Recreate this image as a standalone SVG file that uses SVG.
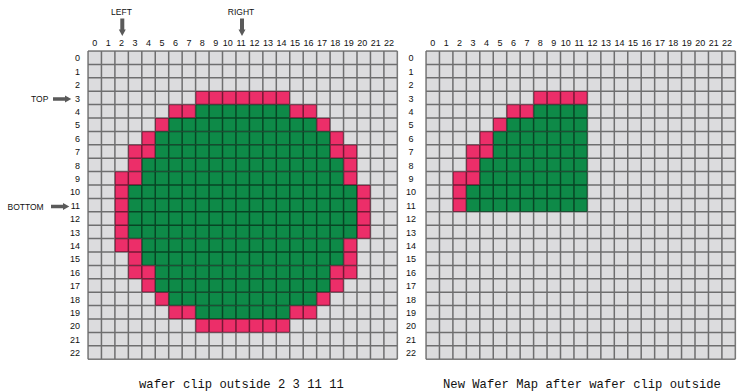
<svg xmlns="http://www.w3.org/2000/svg" width="744" height="392" viewBox="0 0 744 392">
<style>
.bg{fill:#dcdcde}
.p{fill:#ec2e69}
.g{fill:#0e8a48}
.ln{fill:none;stroke:#000;stroke-opacity:0.5;stroke-width:1.5;vector-effect:non-scaling-stroke}
.n{font-family:"Liberation Sans",Arial,sans-serif;font-size:9px;fill:#111;text-anchor:middle}
.rl{font-family:"Liberation Sans",Arial,sans-serif;font-size:9px;fill:#111;text-anchor:end}
.rc{font-family:"Liberation Sans",Arial,sans-serif;font-size:9px;fill:#111;text-anchor:middle}
.lb{font-family:"Liberation Sans",Arial,sans-serif;font-size:8.5px;fill:#111}
.cap{font-family:"Liberation Mono","Courier New",monospace;font-size:12.2px;fill:#111}
.ar{fill:#5a5a5a}
</style>
<defs>
<path id="grid" class="ln" d="M0 0V23M1 0V23M2 0V23M3 0V23M4 0V23M5 0V23M6 0V23M7 0V23M8 0V23M9 0V23M10 0V23M11 0V23M12 0V23M13 0V23M14 0V23M15 0V23M16 0V23M17 0V23M18 0V23M19 0V23M20 0V23M21 0V23M22 0V23M23 0V23M0 0H23M0 1H23M0 2H23M0 3H23M0 4H23M0 5H23M0 6H23M0 7H23M0 8H23M0 9H23M0 10H23M0 11H23M0 12H23M0 13H23M0 14H23M0 15H23M0 16H23M0 17H23M0 18H23M0 19H23M0 20H23M0 21H23M0 22H23M0 23H23"/>
</defs>

<g id="wafer-original" transform="translate(88,51) scale(13.45,13.4)">
<rect class="bg" x="0" y="0" width="23" height="23"/>
<rect class="p" x="8" y="3" width="7" height="1"/>
<rect class="p" x="6" y="4" width="2" height="1"/><rect class="g" x="8" y="4" width="7" height="1"/><rect class="p" x="15" y="4" width="2" height="1"/>
<rect class="p" x="5" y="5" width="1" height="1"/><rect class="g" x="6" y="5" width="11" height="1"/><rect class="p" x="17" y="5" width="1" height="1"/>
<rect class="p" x="4" y="6" width="1" height="1"/><rect class="g" x="5" y="6" width="13" height="1"/><rect class="p" x="18" y="6" width="1" height="1"/>
<rect class="p" x="3" y="7" width="2" height="1"/><rect class="g" x="5" y="7" width="13" height="1"/><rect class="p" x="18" y="7" width="2" height="1"/>
<rect class="p" x="3" y="8" width="1" height="1"/><rect class="g" x="4" y="8" width="15" height="1"/><rect class="p" x="19" y="8" width="1" height="1"/>
<rect class="p" x="2" y="9" width="2" height="1"/><rect class="g" x="4" y="9" width="15" height="1"/><rect class="p" x="19" y="9" width="1" height="1"/>
<rect class="p" x="2" y="10" width="1" height="4"/><rect class="g" x="3" y="10" width="17" height="4"/><rect class="p" x="20" y="10" width="1" height="4"/>
<rect class="p" x="2" y="14" width="2" height="1"/><rect class="g" x="4" y="14" width="15" height="1"/><rect class="p" x="19" y="14" width="1" height="1"/>
<rect class="p" x="3" y="15" width="1" height="1"/><rect class="g" x="4" y="15" width="15" height="1"/><rect class="p" x="19" y="15" width="1" height="1"/>
<rect class="p" x="3" y="16" width="2" height="1"/><rect class="g" x="5" y="16" width="13" height="1"/><rect class="p" x="18" y="16" width="2" height="1"/>
<rect class="p" x="4" y="17" width="1" height="1"/><rect class="g" x="5" y="17" width="13" height="1"/><rect class="p" x="18" y="17" width="1" height="1"/>
<rect class="p" x="5" y="18" width="1" height="1"/><rect class="g" x="6" y="18" width="11" height="1"/><rect class="p" x="17" y="18" width="1" height="1"/>
<rect class="p" x="6" y="19" width="2" height="1"/><rect class="g" x="8" y="19" width="7" height="1"/><rect class="p" x="15" y="19" width="2" height="1"/>
<rect class="p" x="8" y="20" width="7" height="1"/>
<use href="#grid"/>
</g>

<g id="wafer-clipped" transform="translate(426,51) scale(13.45,13.4)">
<rect class="bg" x="0" y="0" width="23" height="23"/>
<rect class="p" x="8" y="3" width="4" height="1"/>
<rect class="p" x="6" y="4" width="2" height="1"/><rect class="g" x="8" y="4" width="4" height="1"/>
<rect class="p" x="5" y="5" width="1" height="1"/><rect class="g" x="6" y="5" width="6" height="1"/>
<rect class="p" x="4" y="6" width="1" height="1"/><rect class="g" x="5" y="6" width="7" height="1"/>
<rect class="p" x="3" y="7" width="2" height="1"/><rect class="g" x="5" y="7" width="7" height="1"/>
<rect class="p" x="3" y="8" width="1" height="1"/><rect class="g" x="4" y="8" width="8" height="1"/>
<rect class="p" x="2" y="9" width="2" height="1"/><rect class="g" x="4" y="9" width="8" height="1"/>
<rect class="p" x="2" y="10" width="1" height="2"/><rect class="g" x="3" y="10" width="9" height="2"/>
<use href="#grid"/>
</g>

<g id="left-col-labels">
<text class="n" x="94.7" y="46">0</text><text class="n" x="108.2" y="46">1</text><text class="n" x="121.6" y="46">2</text><text class="n" x="135.1" y="46">3</text><text class="n" x="148.5" y="46">4</text><text class="n" x="162" y="46">5</text><text class="n" x="175.4" y="46">6</text><text class="n" x="188.9" y="46">7</text><text class="n" x="202.3" y="46">8</text><text class="n" x="215.8" y="46">9</text><text class="n" x="227.7" y="46">10</text><text class="n" x="241.2" y="46">11</text><text class="n" x="254.6" y="46">12</text><text class="n" x="268.1" y="46">13</text><text class="n" x="281.5" y="46">14</text><text class="n" x="295" y="46">15</text><text class="n" x="308.4" y="46">16</text><text class="n" x="321.9" y="46">17</text><text class="n" x="335.3" y="46">18</text><text class="n" x="348.8" y="46">19</text><text class="n" x="362.2" y="46">20</text><text class="n" x="375.7" y="46">21</text><text class="n" x="389.1" y="46">22</text>
</g>
<g id="right-col-labels">
<text class="n" x="432.7" y="46">0</text><text class="n" x="446.2" y="46">1</text><text class="n" x="459.6" y="46">2</text><text class="n" x="473.1" y="46">3</text><text class="n" x="486.5" y="46">4</text><text class="n" x="500" y="46">5</text><text class="n" x="513.4" y="46">6</text><text class="n" x="526.9" y="46">7</text><text class="n" x="540.3" y="46">8</text><text class="n" x="553.8" y="46">9</text><text class="n" x="565.7" y="46">10</text><text class="n" x="579.2" y="46">11</text><text class="n" x="592.6" y="46">12</text><text class="n" x="606.1" y="46">13</text><text class="n" x="619.5" y="46">14</text><text class="n" x="633" y="46">15</text><text class="n" x="646.4" y="46">16</text><text class="n" x="659.9" y="46">17</text><text class="n" x="673.3" y="46">18</text><text class="n" x="686.8" y="46">19</text><text class="n" x="700.2" y="46">20</text><text class="n" x="713.7" y="46">21</text><text class="n" x="727.1" y="46">22</text>
</g>
<g id="left-row-labels">
<text class="rl" x="80" y="61.3">0</text><text class="rl" x="80" y="74.7">1</text><text class="rl" x="80" y="88.1">2</text><text class="rl" x="80" y="101.5">3</text><text class="rl" x="80" y="114.9">4</text><text class="rl" x="80" y="128.3">5</text><text class="rl" x="80" y="141.7">6</text><text class="rl" x="80" y="155.1">7</text><text class="rl" x="80" y="168.5">8</text><text class="rl" x="80" y="181.9">9</text><text class="rl" x="80" y="195.3">10</text><text class="rl" x="80" y="208.7">11</text><text class="rl" x="80" y="222.1">12</text><text class="rl" x="80" y="235.5">13</text><text class="rl" x="80" y="248.9">14</text><text class="rl" x="80" y="262.3">15</text><text class="rl" x="80" y="275.7">16</text><text class="rl" x="80" y="289.1">17</text><text class="rl" x="80" y="302.5">18</text><text class="rl" x="80" y="315.9">19</text><text class="rl" x="80" y="329.3">20</text><text class="rl" x="80" y="342.7">21</text><text class="rl" x="80" y="356.1">22</text>
</g>
<g id="right-row-labels">
<text class="rc" x="411" y="61.3">0</text><text class="rc" x="411" y="74.7">1</text><text class="rc" x="411" y="88.1">2</text><text class="rc" x="411" y="101.5">3</text><text class="rc" x="411" y="114.9">4</text><text class="rc" x="411" y="128.3">5</text><text class="rc" x="411" y="141.7">6</text><text class="rc" x="411" y="155.1">7</text><text class="rc" x="411" y="168.5">8</text><text class="rc" x="411" y="181.9">9</text><text class="rc" x="411" y="195.3">10</text><text class="rc" x="411" y="208.7">11</text><text class="rc" x="411" y="222.1">12</text><text class="rc" x="411" y="235.5">13</text><text class="rc" x="411" y="248.9">14</text><text class="rc" x="411" y="262.3">15</text><text class="rc" x="411" y="275.7">16</text><text class="rc" x="411" y="289.1">17</text><text class="rc" x="411" y="302.5">18</text><text class="rc" x="411" y="315.9">19</text><text class="rc" x="411" y="329.3">20</text><text class="rc" x="411" y="342.7">21</text><text class="rc" x="411" y="356.1">22</text>
</g>

<g id="pointer-labels">
<text class="lb" x="121.5" y="14.5" text-anchor="middle">LEFT</text>
<text class="lb" x="241" y="14.5" text-anchor="middle">RIGHT</text>
<text class="lb" x="31" y="102">TOP</text>
<text class="lb" x="7.5" y="210">BOTTOM</text>
</g>

<g id="connectors">
<path class="ar" d="M120.3 18.5H124.3V29.5H125.8L122.3 36L118.8 29.5H120.3Z"/>
<path class="ar" d="M240 18.5H244V29.5H245.5L242 36L238.5 29.5H240Z"/>
<path class="ar" d="M53 97.3H65V95.5L71.3 99L65 102.5V100.7H53Z"/>
<path class="ar" d="M51 204.8H63V203L69.3 206.5L63 210V208.2H51Z"/>
</g>

<g id="captions">
<text class="cap" x="139" y="388">wafer clip outside 2 3 11 11</text>
<text class="cap" x="443" y="388">New Wafer Map after wafer clip outside</text>
</g>
</svg>
